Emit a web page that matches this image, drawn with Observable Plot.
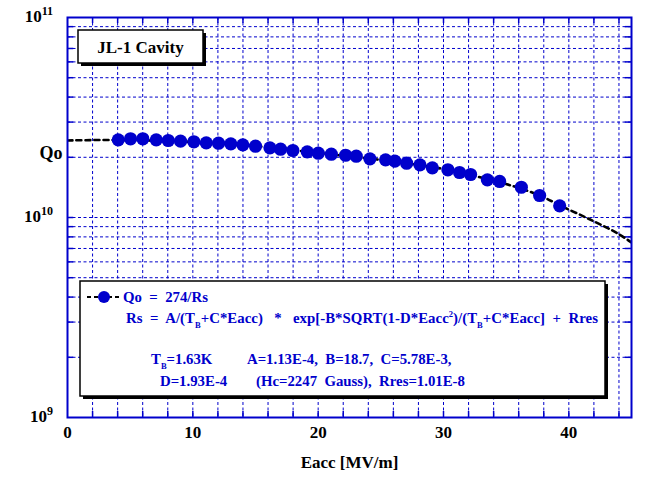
<!DOCTYPE html>
<html>
<head>
<meta charset="utf-8">
<script src="https://cdn.jsdelivr.net/npm/d3@7"></script>
<script src="https://cdn.jsdelivr.net/npm/@observablehq/plot@0.6"></script>
<style>
  html, body { margin: 0; padding: 0; background: #fff; }
  #chart svg { display: block; }
</style>
</head>
<body>
<div id="chart"></div>
<script>
// Measured data: accelerating gradient (MV/m) and quality factor
const eacc = [4.05, 5.03, 6.01, 7.08, 8.04, 9.02, 10.08, 11.07, 12.05, 13.03,
  13.99, 15.0, 16.15, 17.0, 17.98, 19.13, 20.01, 21.05, 22.19, 23.04,
  24.13, 25.38, 26.12, 27.06, 28.12, 29.11, 30.35, 31.28, 32.16, 33.5,
  34.48, 36.21, 37.67, 39.27];
const qo = [2.446e10, 2.475e10, 2.475e10, 2.446e10, 2.427e10, 2.407e10, 2.391e10, 2.363e10, 2.352e10, 2.336e10,
  2.309e10, 2.272e10, 2.231e10, 2.195e10, 2.163e10, 2.130e10, 2.096e10, 2.072e10, 2.048e10, 2.025e10,
  1.965e10, 1.943e10, 1.912e10, 1.868e10, 1.834e10, 1.772e10, 1.732e10, 1.679e10, 1.641e10, 1.543e10,
  1.514e10, 1.417e10, 1.288e10, 1.144e10];

// Fit curve
const fitE = [0, 4, 10, 15, 20, 25, 30, 33, 35.4, 37.7, 39.3, 41.7, 43.9, 45];
const fitQ = [2.427e10, 2.441e10, 2.385e10, 2.278e10, 2.101e10, 1.939e10, 1.748e10, 1.585e10,
  1.445e10, 1.288e10, 1.148e10, 9.77e9, 8.32e9, 7.50e9];

// Axis ticks / labels
const xTickLabels = [0, 10, 20, 30, 40];
const xGrid = [2, 4, 6, 8, 10, 12, 14, 16, 18, 20, 22, 24, 26, 28, 30, 32, 34, 36, 38, 40, 42, 44];
const yMajor = [1e9, 1e10, 1e11];
const yExps = ["9", "10", "11"];
const yGrid = [2e9, 3e9, 4e9, 5e9, 6e9, 7e9, 8e9, 9e9, 1e10, 2e10, 3e10, 4e10, 5e10, 6e10, 7e10, 8e10, 9e10];

const xLabel = "Eacc [MV/m]";
const yLabel = "Qo";
const titleText = "JL-1 Cavity";

const points = eacc.map((e, i) => ({e, q: qo[i]}));
const fit = fitE.map((e, i) => ({e, q: fitQ[i]}));

const BLUE = "#0000cc";
const SERIF = "'Liberation Serif', 'Times New Roman', serif";

const plot = Plot.plot({
  width: 645,
  height: 479,
  marginLeft: 67,
  marginRight: 14,
  marginTop: 17,
  marginBottom: 62,
  style: {background: "#fff", fontFamily: SERIF, overflow: "visible"},
  x: {domain: [0, 45], axis: null},
  y: {type: "log", domain: [1e9, 1e11], axis: null},
  marks: [
    Plot.ruleX(xGrid, {x: d => d, stroke: BLUE, strokeWidth: 1, strokeDasharray: "3,2.5", strokeOpacity: 1}),
    Plot.ruleY(yGrid, {y: d => d, stroke: BLUE, strokeWidth: 1, strokeDasharray: "3,2.5", strokeOpacity: 1}),
    // inward ticks
    Plot.ruleY(yGrid, {y: d => d, x1: 0, x2: 0.5, stroke: BLUE, strokeWidth: 1.5}),
    Plot.ruleY(yGrid, {y: d => d, x1: 44.5, x2: 45, stroke: BLUE, strokeWidth: 1.5}),
    Plot.ruleX(xGrid, {x: d => d, y1: 1e11, y2: 10 ** 10.97, stroke: BLUE, strokeWidth: 1.5}),
    Plot.ruleX(xGrid, {x: d => d, y1: 1e9, y2: 10 ** 9.03, stroke: BLUE, strokeWidth: 1.5}),
    Plot.line(fit, {x: "e", y: "q", stroke: "#000", strokeWidth: 2.6, strokeDasharray: "5,4", curve: "catmull-rom", clip: true}),
    Plot.dot(points, {x: "e", y: "q", r: 6.6, fill: BLUE, stroke: "none"}),
    Plot.frame({stroke: BLUE, strokeWidth: 2}),
    Plot.text(xTickLabels, {x: d => d, frameAnchor: "bottom", dy: 20, text: d => String(d),
      fontSize: 17, fontWeight: "bold", fill: "#000"}),
    Plot.text([xLabel], {frameAnchor: "bottom", dy: 50, text: d => d, fontSize: 17, fontWeight: "bold", fill: "#000"}),
    Plot.text([yLabel], {frameAnchor: "top-left", dx: -28, dy: 129, text: d => d, fontSize: 18, fontWeight: "bold", fill: "#000"})
  ]
});

document.getElementById("chart").appendChild(plot);

const svg = d3.select(plot);
const yScale = plot.scale("y");

// y tick labels with superscript exponents, positioned with the plot's y scale
const yl = svg.append("g").attr("font-family", SERIF).attr("font-weight", "bold").attr("fill", "#000").attr("text-anchor", "end");
yMajor.forEach((v, i) => {
  const t = yl.append("text").attr("x", 53).attr("y", yScale.apply(v) + 5).attr("font-size", 17);
  t.append("tspan").text("10");
  t.append("tspan").attr("dy", -7).attr("font-size", 12).text(yExps[i]);
});

// Title box
const tg = svg.append("g").attr("text-anchor", "middle");
tg.append("rect").attr("x", 81).attr("y", 33).attr("width", 125).attr("height", 33).attr("fill", "#000");
tg.append("rect").attr("x", 78).attr("y", 30).attr("width", 125).attr("height", 33)
  .attr("fill", "#fff").attr("stroke", "#000").attr("stroke-width", 1.5);
tg.append("text").attr("x", 140.5).attr("y", 53)
  .attr("font-family", SERIF).attr("font-weight", "bold").attr("font-size", 17).text(titleText);

// Legend box
const lg = svg.append("g").attr("font-family", SERIF).attr("font-weight", "bold").attr("fill", BLUE)
  .attr("font-size", 14.8).attr("text-anchor", "start");
lg.append("rect").attr("x", 83).attr("y", 284).attr("width", 525).attr("height", 115).attr("fill", "#000");
lg.append("rect").attr("x", 80).attr("y", 281).attr("width", 525).attr("height", 115)
  .attr("fill", "#fff").attr("stroke", "#000").attr("stroke-width", 1.5);
lg.append("line").attr("x1", 87).attr("x2", 121).attr("y1", 297).attr("y2", 297)
  .attr("stroke", "#000").attr("stroke-width", 2.2).attr("stroke-dasharray", "4,3");
lg.append("circle").attr("cx", 104).attr("cy", 297).attr("r", 6).attr("fill", BLUE);

function addLine(x, y, parts, len) {
  const t = lg.append("text").attr("x", x).attr("y", y).attr("xml:space", "preserve").style("white-space", "pre");
  let pending = 0;
  parts.forEach(p => {
    if (typeof p === "string") {
      const s = t.append("tspan").text(p);
      if (pending) { s.attr("dy", pending); pending = 0; }
    } else if (p.sub) {
      t.append("tspan").attr("dy", 5).attr("font-size", 8.5).text(p.sub);
      pending = -5;
    } else if (p.sup) {
      t.append("tspan").attr("dy", -6).attr("font-size", 8.5).text(p.sup);
      pending = 6;
    }
  });
  if (len) t.attr("textLength", len).attr("lengthAdjust", "spacing");
  return t;
}
addLine(123, 302, ["Qo  =  274/Rs"]);
addLine(126, 323, ["Rs  =  A/(T", {sub: "B"}, "+C*Eacc)   *   exp[-B*SQRT(1-D*Eacc", {sup: "2"}, ")/(T", {sub: "B"}, "+C*Eacc]  +  Rres"], 472);
addLine(151, 364, ["T", {sub: "B"}, "=1.63K"]);
addLine(247, 364, ["A=1.13E-4,  B=18.7,  C=5.78E-3,"]);
addLine(160, 386, ["D=1.93E-4"]);
addLine(256, 386, ["(Hc=2247  Gauss),  Rres=1.01E-8"]);
</script>
</body>
</html>
